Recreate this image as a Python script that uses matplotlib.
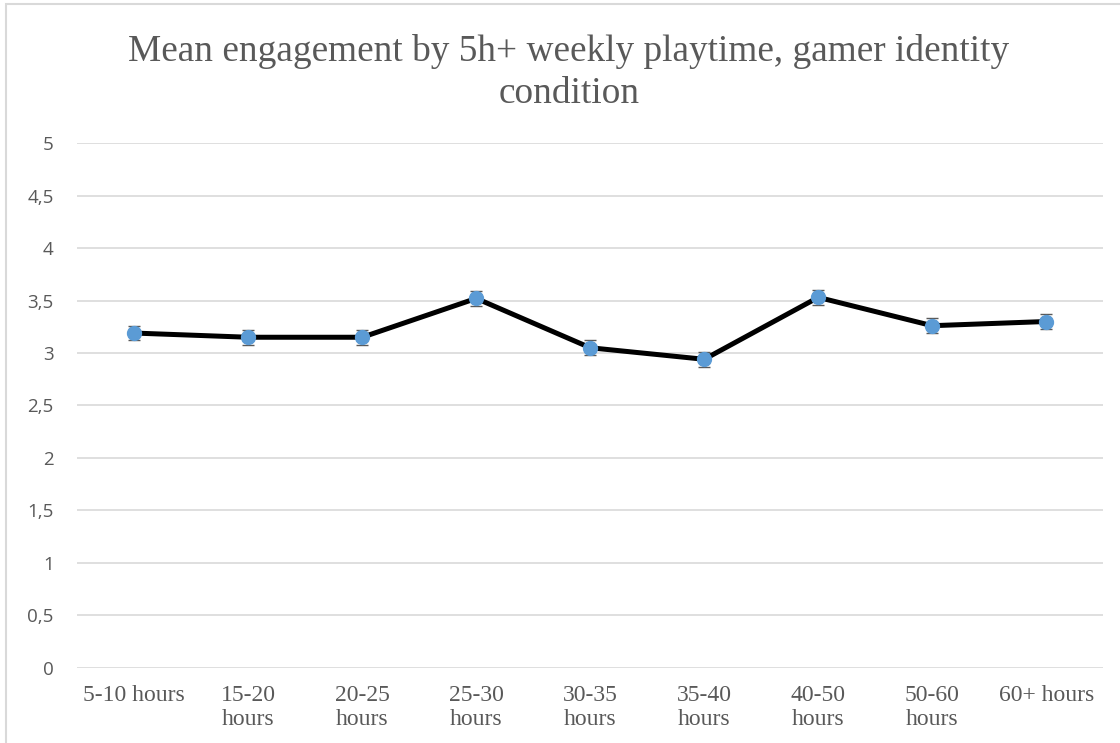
import matplotlib.pyplot as plt
from matplotlib.patches import Rectangle

# Data
categories = ['5-10 hours', '15-20\nhours', '20-25\nhours', '25-30\nhours', '30-35\nhours',
              '35-40\nhours', '40-50\nhours', '50-60\nhours', '60+ hours']
means = [3.19, 3.15, 3.15, 3.52, 3.05, 2.94, 3.53, 3.26, 3.30]
errors = [0.07, 0.07, 0.07, 0.07, 0.07, 0.07, 0.07, 0.07, 0.07]
yticks = [0, 0.5, 1, 1.5, 2, 2.5, 3, 3.5, 4, 4.5, 5]
ytick_labels = ['0', '0,5', '1', '1,5', '2', '2,5', '3', '3,5', '4', '4,5', '5']

fig = plt.figure(figsize=(11.2, 7.43), dpi=100)
ax = fig.add_axes([0.069, 0.101, 0.916, 0.7065])

x = list(range(len(categories)))
ax.errorbar(x, means, yerr=errors, fmt='none', ecolor='#595959', elinewidth=1,
            capsize=4.5, capthick=1, zorder=2)
ax.plot(x, means, color='black', linewidth=3.6, zorder=3, solid_capstyle='round')
ax.plot(x, means, linestyle='none', marker='o', markersize=10,
        markerfacecolor='#5b9bd5', markeredgecolor='#5b9bd5', zorder=4)

ax.set_xlim(-0.5, len(categories) - 0.5)
ax.set_ylim(0, 5)
ax.set_yticks(yticks)
ax.set_yticklabels(ytick_labels, fontfamily='Open Sans', fontsize=13.5, color='#595959')
ax.set_xticks(x)
ax.set_xticklabels(categories, fontfamily='Liberation Serif', fontsize=17,
                   color='#595959', linespacing=1.2)
ax.tick_params(axis='both', length=0)
ax.tick_params(axis='y', pad=17)
ax.tick_params(axis='x', pad=12)
ax.grid(axis='y', color='#d9d9d9', linewidth=1.2)
ax.set_axisbelow(True)
for s in ax.spines.values():
    s.set_visible(False)

fig.text(0.508, 0.903, 'Mean engagement by 5h+ weekly playtime, gamer identity\ncondition',
         ha='center', va='center', fontfamily='Liberation Serif', fontsize=26.8,
         color='#595959', linespacing=1.28)

# chart area border
fig.patches.append(Rectangle((6 / 1120, -0.01), 1.1, 1 - 4 / 743 + 0.01, transform=fig.transFigure,
                             fill=False, edgecolor='#d9d9d9', linewidth=1.5))

fig.savefig('out.png', dpi=100)
